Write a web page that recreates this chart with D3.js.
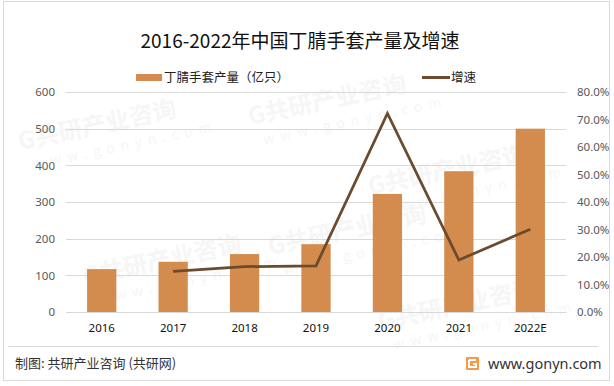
<!DOCTYPE html>
<html>
<head>
<meta charset="utf-8">
<script src="https://cdn.jsdelivr.net/npm/d3@7"></script>
<style>
  body { margin: 0; background: #fff; }
  text { font-family: "Noto Sans CJK SC", "Noto Sans", sans-serif; }
</style>
</head>
<body>
<script>
var years = ['2016', '2017', '2018', '2019', '2020', '2021', '2022E'];
var output = [117, 137, 158, 185, 322, 384, 500];
var growth = [null, 14.8, 16.5, 16.8, 72.2, 18.9, 30.1];
var leftTicks = [0, 100, 200, 300, 400, 500, 600];
var rightTicks = [0, 10, 20, 30, 40, 50, 60, 70, 80];

var width = 614;
var height = 386;
var plot = { left: 66, right: 566, top: 92, bottom: 312 };

var svg = d3.select('body').append('svg')
    .attr('width', width)
    .attr('height', height);

// frame
svg.append('rect')
    .attr('x', 3.5).attr('y', 1.5)
    .attr('width', 606).attr('height', 379)
    .style('fill', '#fff')
    .style('stroke', '#d9d9d9');

// faint watermarks, kept inside the frame
var marks = [[20, 150], [250, 125], [370, 195], [85, 285], [270, 255], [380, 330]];
marks.forEach(function (m) {
    var g = svg.append('g')
        .attr('transform', 'translate(' + m[0] + ',' + m[1] + ') rotate(-12)');
    g.append('text')
        .attr('font-size', 24).attr('font-weight', 'bold')
        .style('fill', '#f6f6f6')
        .text('G共研产业咨询');
    g.append('text')
        .attr('y', 22).attr('x', 10)
        .attr('font-size', 14).attr('letter-spacing', 6)
        .style('fill', '#f6f6f6')
        .text('www.gonyn.com');
});

var x = d3.scaleBand()
    .domain(years)
    .range([plot.left, plot.right])
    .paddingInner(0.59)
    .paddingOuter(0.295);

var y = d3.scaleLinear().domain([0, 600]).range([plot.bottom, plot.top]);
var y2 = d3.scaleLinear().domain([0, 80]).range([plot.bottom, plot.top]);

// gridlines
svg.append('g').selectAll('line')
    .data(leftTicks)
  .enter().append('line')
    .attr('x1', plot.left).attr('x2', plot.right)
    .attr('y1', function (d) { return Math.round(y(d)) + 0.5; })
    .attr('y2', function (d) { return Math.round(y(d)) + 0.5; })
    .style('stroke', '#d9d9d9')
    .style('stroke-width', 1);

// left axis
var leftAxis = svg.append('g')
    .attr('transform', 'translate(' + (plot.left - 11) + ',0)')
    .call(d3.axisLeft(y).tickValues(leftTicks).tickSize(0).tickPadding(0));
leftAxis.select('.domain').remove();
leftAxis.selectAll('text')
    .attr('font-size', 11.5)
    .style('font-family', '"Noto Sans", sans-serif')
    .style('fill', '#595959');

// right axis
var rightAxis = svg.append('g')
    .attr('transform', 'translate(' + (plot.right + 11) + ',0)')
    .call(d3.axisRight(y2).tickValues(rightTicks).tickSize(0).tickPadding(0)
        .tickFormat(function (d) { return d.toFixed(1) + '%'; }));
rightAxis.select('.domain').remove();
rightAxis.selectAll('text')
    .attr('font-size', 11.5)
    .style('font-family', '"Noto Sans", sans-serif')
    .style('fill', '#595959');

// bars
svg.append('g').selectAll('rect')
    .data(output)
  .enter().append('rect')
    .attr('x', function (d, i) { return x(years[i]); })
    .attr('y', function (d) { return y(d); })
    .attr('width', x.bandwidth())
    .attr('height', function (d) { return y(0) - y(d); })
    .style('fill', '#d48c4e');

// x axis labels
var bottomAxis = svg.append('g')
    .attr('transform', 'translate(0,' + (plot.bottom + 12) + ')')
    .call(d3.axisBottom(x).tickSize(0).tickPadding(0));
bottomAxis.select('.domain').remove();
bottomAxis.selectAll('text')
    .attr('font-size', 11.5)
    .style('font-family', '"Noto Sans", sans-serif')
    .style('fill', '#111');

// growth line
var line = d3.line()
    .defined(function (d) { return d !== null; })
    .x(function (d, i) { return x(years[i]) + x.bandwidth() / 2; })
    .y(function (d) { return y2(d); });

svg.append('path')
    .datum(growth)
    .attr('d', line)
    .style('fill', 'none')
    .style('stroke', '#6b4a2e')
    .style('stroke-width', 2.75);

// title
svg.append('text')
    .attr('x', 300).attr('y', 48)
    .attr('text-anchor', 'middle')
    .attr('font-size', 19)
    .style('fill', '#111')
    .text('2016-2022年中国丁腈手套产量及增速');

// legend
svg.append('rect')
    .attr('x', 136).attr('y', 74)
    .attr('width', 26).attr('height', 7)
    .style('fill', '#d48c4e');
svg.append('text')
    .attr('x', 164).attr('y', 82)
    .attr('font-size', 12.5)
    .style('fill', '#222')
    .text('丁腈手套产量（亿只）');
svg.append('line')
    .attr('x1', 422).attr('x2', 450)
    .attr('y1', 77.5).attr('y2', 77.5)
    .style('stroke', '#6b4a2e')
    .style('stroke-width', 3);
svg.append('text')
    .attr('x', 451).attr('y', 82)
    .attr('font-size', 12.5)
    .style('fill', '#222')
    .text('增速');

// footer
svg.append('line')
    .attr('x1', 8).attr('x2', 598)
    .attr('y1', 346.5).attr('y2', 346.5)
    .style('stroke', '#d9d9d9');
svg.append('text')
    .attr('x', 15).attr('y', 368)
    .attr('font-size', 13)
    .style('fill', '#333')
    .text('制图: 共研产业咨询 (共研网)');

var logo = svg.append('g').attr('transform', 'translate(466,357)');
logo.append('rect')
    .attr('width', 13).attr('height', 13).attr('rx', 1)
    .style('fill', '#f59a4a');
logo.append('path')
    .attr('d', 'M3,3 H10 M3,3 V10 H10 V7 H7')
    .style('fill', 'none')
    .style('stroke', '#fff')
    .style('stroke-width', 2);

svg.append('text')
    .attr('x', 488).attr('y', 369)
    .attr('font-size', 14.5)
    .style('font-family', '"Noto Sans", sans-serif')
    .style('fill', '#333')
    .text('www.gonyn.com');
</script>
</body>
</html>
